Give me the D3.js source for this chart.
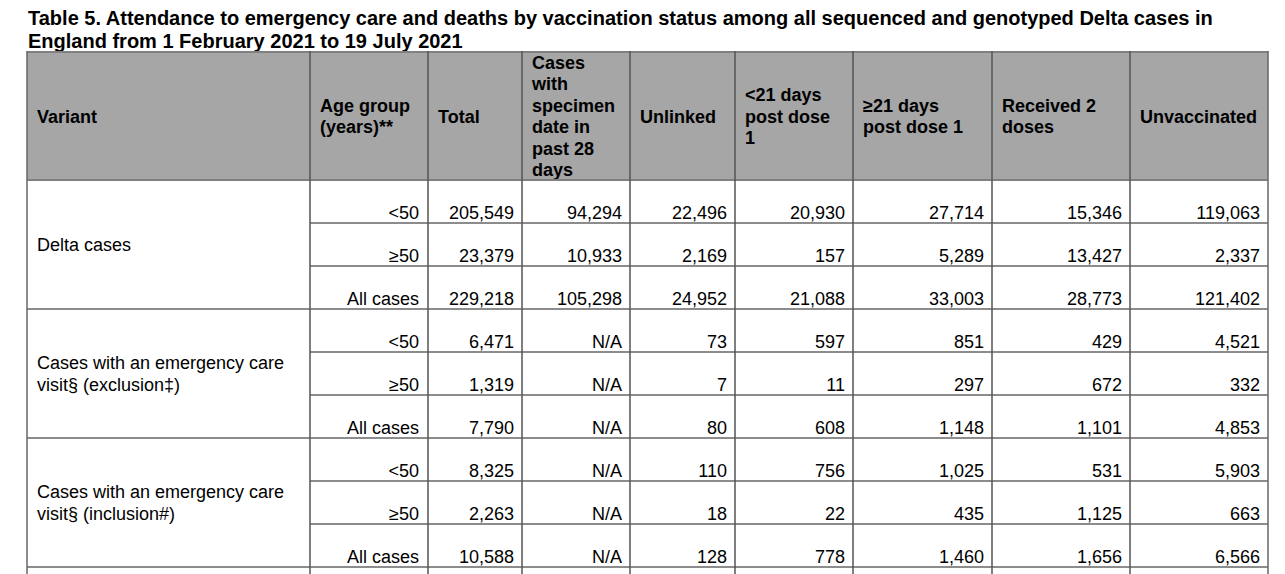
<!DOCTYPE html>
<html>
<head>
<meta charset="utf-8">
<script src="https://cdn.jsdelivr.net/npm/d3@7"></script>
<style>
  html, body { margin: 0; padding: 0; background: #fff; }
  svg { display: block; }
  text { font-family: "Liberation Sans", Arial, sans-serif; fill: #000; }
</style>
</head>
<body>
<svg id="chart" width="1285" height="574"></svg>
<script>
// ---------- data ----------
const titleLines = [
  "Table 5. Attendance to emergency care and deaths by vaccination status among all sequenced and genotyped Delta cases in",
  "England from 1 February 2021 to 19 July 2021"
];
const headers = [
  ["Variant"],
  ["Age group", "(years)**"],
  ["Total"],
  ["Cases", "with", "specimen", "date in", "past 28", "days"],
  ["Unlinked"],
  ["<21 days", "post dose", "1"],
  ["\u226521 days", "post dose 1"],
  ["Received 2", "doses"],
  ["Unvaccinated"]
];
const groups = [
  ["Delta cases"],
  ["Cases with an emergency care", "visit\u00a7 (exclusion\u2021)"],
  ["Cases with an emergency care", "visit\u00a7 (inclusion#)"]
];
const ageGroups = ["<50", "\u226550", "All cases"];
const deltaCases = [
  ["205,549", "94,294", "22,496", "20,930", "27,714", "15,346", "119,063"],
  ["23,379", "10,933", "2,169", "157", "5,289", "13,427", "2,337"],
  ["229,218", "105,298", "24,952", "21,088", "33,003", "28,773", "121,402"]
];
const emergencyExclusion = [
  ["6,471", "N/A", "73", "597", "851", "429", "4,521"],
  ["1,319", "N/A", "7", "11", "297", "672", "332"],
  ["7,790", "N/A", "80", "608", "1,148", "1,101", "4,853"]
];
const emergencyInclusion = [
  ["8,325", "N/A", "110", "756", "1,025", "531", "5,903"],
  ["2,263", "N/A", "18", "22", "435", "1,125", "663"],
  ["10,588", "N/A", "128", "778", "1,460", "1,656", "6,566"]
];
const groupValues = [deltaCases, emergencyExclusion, emergencyInclusion];

// ---------- layout ----------
const colEdges = [27, 310, 428, 522, 630, 735, 853, 992, 1130, 1268];
const headerTop = 52, headerBottom = 180, rowH = 43;
const svg = d3.select("#chart");

const yRow = d3.scaleLinear().domain([0, 1]).range([headerBottom, headerBottom + rowH]);
const colL = i => colEdges[i];
const colR = i => colEdges[i + 1];

// title
svg.append("g").selectAll("text").data(titleLines).join("text")
  .attr("x", 28).attr("y", (d, i) => 25 + i * 22.5)
  .attr("font-size", 20).attr("font-weight", "bold")
  .text(d => d);

// header background
svg.append("rect").attr("x", colEdges[0]).attr("y", headerTop)
  .attr("width", colEdges[colEdges.length - 1] - colEdges[0])
  .attr("height", headerBottom - headerTop).attr("fill", "#a6a6a6");

// header text
const hg = svg.append("g");
headers.forEach((lines, i) => {
  const lh = 21.4;
  const mid = (headerTop + headerBottom) / 2;
  const t = hg.append("text").attr("font-size", 18).attr("font-weight", "bold");
  lines.forEach((ln, j) => {
    t.append("tspan").attr("x", colL(i) + 10)
      .attr("y", mid + 6.5 + (j - (lines.length - 1) / 2) * lh)
      .text(ln);
  });
});

// body
const totalRows = groups.length * ageGroups.length;
const bg = svg.append("g");
groups.forEach((g, gi) => {
  const top = yRow(gi * 3), bottom = yRow(gi * 3 + 3);
  const mid = (top + bottom) / 2;
  const t = bg.append("text").attr("font-size", 18);
  g.forEach((ln, j) => {
    t.append("tspan").attr("x", colL(0) + 10)
      .attr("y", mid + 6.5 + (j - (g.length - 1) / 2) * 22)
      .text(ln);
  });
  ageGroups.forEach((a, ai) => {
    const r = gi * 3 + ai;
    const base = yRow(r + 1) - 4;
    bg.append("text").attr("font-size", 18).attr("text-anchor", "end")
      .attr("x", colR(1) - 9).attr("y", base).text(a);
    groupValues[gi][ai].forEach((v, ci) => {
      bg.append("text").attr("font-size", 18).attr("text-anchor", "end")
        .attr("x", colR(ci + 2) - 8).attr("y", base).text(v);
    });
  });
});

// grid lines
const lg = svg.append("g").attr("fill", "none");
const xMin = colEdges[0], xMax = colEdges[colEdges.length - 1];
// horizontal
lg.append("line").attr("x1", xMin).attr("x2", xMax).attr("y1", headerTop).attr("y2", headerTop)
  .attr("stroke", "#808080").attr("stroke-width", 2);
lg.append("line").attr("x1", xMin).attr("x2", xMax).attr("y1", headerBottom).attr("y2", headerBottom)
  .attr("stroke", "#808080").attr("stroke-width", 2);
d3.range(1, totalRows + 1).forEach(r => {
  const y = yRow(r);
  const full = r % 3 === 0;
  lg.append("line").attr("x1", full ? xMin : colEdges[1]).attr("x2", xMax)
    .attr("y1", y).attr("y2", y)
    .attr("stroke", "#8c8c8c").attr("stroke-width", 2);
});
// vertical
colEdges.forEach((x, i) => {
  lg.append("line").attr("x1", x).attr("x2", x).attr("y1", headerTop - 1).attr("y2", 580)
    .attr("stroke", i === 0 || i === colEdges.length - 1 ? "#666" : "#555")
    .attr("stroke-width", 1.5);
});
</script>
</body>
</html>
